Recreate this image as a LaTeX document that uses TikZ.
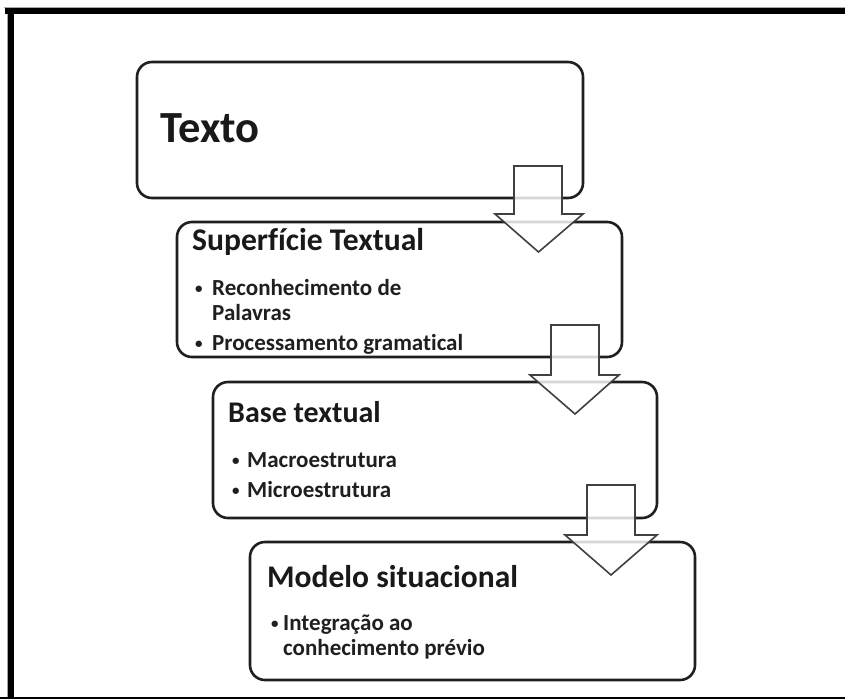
\documentclass[tikz,border=0pt]{standalone}
\usepackage{fontspec}
\setmainfont[Ligatures=NoCommon]{Carlito}
\begin{document}
\begin{tikzpicture}[x=1pt,y=-1pt,
  stagebox/.style={draw=black!88,line width=2.6pt,rounded corners=15pt,fill=white},
  blockarrow/.style={draw=black!75,line width=1.6pt,fill=white,fill opacity=0.82,line join=miter},
  title/.style={anchor=base west,inner sep=0pt,text=black!90,font=\bfseries},
  item/.style={anchor=base west,inner sep=0pt,text=black!88,font=\bfseries\fontsize{23}{23}\selectfont},
  dot/.style={anchor=base west,inner sep=0pt,text=black!88,font=\bfseries\fontsize{15}{15}\selectfont}]
\useasboundingbox (0,0) rectangle (845,699);
\fill[white] (0,0) rectangle (845,699);

% outer frame
\fill[black!35] (4,6.5) rectangle (845,8);
\fill[black!35] (6.5,6.5) rectangle (8,699);
\fill[black] (5,8) rectangle (845,13.5);
\fill[black] (8,8) rectangle (14,699);
\fill[black] (0,697) rectangle (845,699);

% stage boxes
\draw[stagebox] (137,62) rectangle (583,198);
\draw[stagebox] (177,222) rectangle (622,357);
\draw[stagebox] (213,382) rectangle (657,518);
\draw[stagebox] (250,542) rectangle (695,680);

% stage titles
\node[title,font=\bfseries\fontsize{44.5}{44.5}\selectfont] (t1) at (160,142) {Texto};
\node[title,font=\bfseries\fontsize{31.6}{31.6}\selectfont] (t2) at (192,250) {Superfície Textual};
\node[title,font=\bfseries\fontsize{30}{30}\selectfont] (t3) at (228,422) {Base textual};
\node[title,font=\bfseries\fontsize{31.5}{31.5}\selectfont] (t4) at (267,587) {Modelo situacional};

% bullet items
\node[dot] (d21) at (195,293) {•};
\node[item] (i21) at (212,295) {Reconhecimento de};
\node[item] (i22) at (212,320) {Palavras};
\node[dot] (d22) at (195,348) {•};
\node[item] (i23) at (212,350) {Processamento gramatical};

\node[dot] (d31) at (232,465) {•};
\node[item] (i31) at (247,467) {Macroestrutura};
\node[dot] (d32) at (232,495) {•};
\node[item] (i32) at (247,497) {Microestrutura};

\node[dot] (d41) at (271,628) {•};
\node[item] (i41) at (283,630) {Integração ao};
\node[item] (i42) at (283,655) {conhecimento prévio};

% block arrows between stages
\draw[blockarrow] (514,166) -- (562,166) -- (562,214) -- (583,214) -- (538.5,252)
  -- (495,214) -- (514,214) -- cycle;
\draw[blockarrow] (551,325) -- (599,325) -- (599,375) -- (619,375) -- (575,414)
  -- (530,375) -- (551,375) -- cycle;
\draw[blockarrow] (587,485) -- (635,485) -- (635,535) -- (657,535) -- (611,575)
  -- (565,535) -- (587,535) -- cycle;
\end{tikzpicture}
\end{document}
